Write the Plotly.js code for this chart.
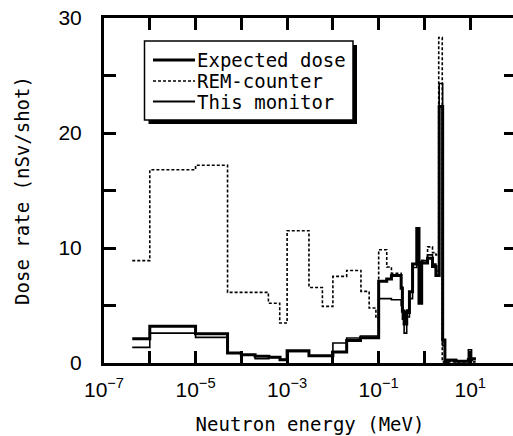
<!DOCTYPE html>
<html>
<head>
<meta charset="utf-8">
<script src="https://cdn.plot.ly/plotly-3.0.1.min.js"></script>
<style>
html, body { margin: 0; padding: 0; overflow: hidden; background: #fff; }
#chart { width: 522px; height: 436px; }
</style>
</head>
<body>
<div id="chart"></div>
<script>
// ---- Data (neutron energy in MeV, dose rate in nSv/shot) ----
// Bin edges for the "Expected dose" and "This monitor" histograms
const binEdges = [4.14e-7, 1e-6, 1e-5, 5e-5, 1e-4, 2e-4, 4e-4, 7e-4, 1e-3, 3e-3,
  1e-2, 2e-2, 4e-2, 0.1, 0.15, 0.19, 0.31, 0.33, 0.36, 0.41, 0.47, 0.55, 0.68,
  0.76, 0.87, 1.17, 1.5, 1.78, 2.1, 2.5, 2.8, 3.2, 4.9, 9.1, 10.7, 13.3];
const expectedDose = [2.1, 3.2, 2.55, 0.87, 0.72, 0.58, 0.49, 0.29, 1.07, 0.63,
  0.95, 1.95, 2.2, 7.1, 7.3, 7.6, 6.5, 4.5, 3.4, 4.4, 6.2, 8.6, 11.7,
  5.2, 8.7, 9.1, 8.4, 7.6, 22.3, 2.0, 0.0, 0.25, 0.15, 0.3, 0.35];
const thisMonitor = [1.36, 2.6, 2.23, 0.85, 0.72, 0.37, 0.49, 0.29, 1.0, 0.6,
  1.74, 2.17, 2.35, 5.6, 5.6, 5.5, 5.0, 3.8, 2.6, 4.0, 5.6, 8.3, 8.6,
  8.8, 8.9, 9.4, 8.6, 8.0, 24.3, 1.5, 0.0, 0.3, 0.2, 1.15, 0.4];
// Bin edges for the REM-counter histogram
const remEdges = [4.14e-7, 1e-6, 1e-5, 5e-5, 3.9e-4, 6.9e-4, 1e-3, 3e-3, 5.9e-3,
  1e-2, 2e-2, 4.1e-2, 6.2e-2, 8.7e-2, 0.1, 0.15, 0.19, 0.31, 0.33, 0.36, 0.41,
  0.47, 0.55, 0.68, 0.87, 1.17, 1.5, 1.78, 2.05, 2.45, 13.3];
const remCounter = [8.9, 16.8, 17.2, 6.14, 5.2, 3.48, 11.5, 6.57, 4.92,
  7.53, 8.05, 6.23, 4.78, 3.9, 9.85, 8.35, 7.8, 6.6, 4.8, 3.6,
  4.6, 6.3, 8.6, 8.8, 8.9, 10.1, 9.6, 9.4, 28.3, 0.1];

const seriesNames = ['Expected dose', 'REM-counter', 'This monitor'];
const xTickVals = [1e-7, 1e-5, 1e-3, 1e-1, 1e1];
const xTickText = ['10<sup>−7</sup>', '10<sup>−5</sup>', '10<sup>−3</sup>', '10<sup>−1</sup>', '10<sup>1</sup>'];
const xMinorVals = [1e-6, 1e-4, 1e-2, 1e0];
const yTickVals = [0, 10, 20, 30];
const yTickText = ['0', '10', '20', '30'];
const yMinorVals = [5, 15, 25];

// ---- Layout geometry (pixels) ----
const W = 522, H = 436;
const M = {l: 104, r: 6, t: 18, b: 73};
const plotW = W - M.l - M.r, plotH = H - M.t - M.b;
const px = v => (v - M.l) / plotW;
const py = v => (H - M.b - v) / plotH;

function stepY(vals) { return vals.concat([vals[vals.length - 1]]); }

const monoFont = 'DejaVu Sans Mono, Liberation Mono, monospace';
const tickFont = {family: 'Liberation Sans Narrow, Arial Narrow, Liberation Sans, Arial, sans-serif', size: 21, color: '#000'};
const tickStyle = {ticks: 'inside', ticklen: 12, tickwidth: 3, tickcolor: '#000'};

const traces = [
  {x: remEdges, y: stepY(remCounter), name: seriesNames[1], type: 'scatter', mode: 'lines',
   line: {shape: 'hv', color: '#000', width: 1.6, dash: '3px,2px'}},
  {x: binEdges, y: stepY(thisMonitor), name: seriesNames[2], type: 'scatter', mode: 'lines',
   line: {shape: 'hv', color: '#000', width: 1.6}},
  {x: binEdges, y: stepY(expectedDose), name: seriesNames[0], type: 'scatter', mode: 'lines',
   line: {shape: 'hv', color: '#000', width: 3}}
];

// Manual legend box (with drop shadow) drawn in paper coordinates
const lg = {x0: 144.5, x1: 353, y0: 41, y1: 120, sh: 4};
const rows = [
  {y: 60, width: 3, dash: 'solid', text: seriesNames[0]},
  {y: 81, width: 1.5, dash: '3px,2px', text: seriesNames[1]},
  {y: 101.5, width: 1.8, dash: 'solid', text: seriesNames[2]}
];
const shapes = [
  {type: 'rect', xref: 'paper', yref: 'paper', layer: 'above',
   x0: px(lg.x0 + lg.sh), x1: px(lg.x1 + lg.sh), y0: py(lg.y0 + lg.sh), y1: py(lg.y1 + lg.sh),
   fillcolor: '#000', line: {width: 0}},
  {type: 'rect', xref: 'paper', yref: 'paper', layer: 'above',
   x0: px(lg.x0), x1: px(lg.x1), y0: py(lg.y0), y1: py(lg.y1),
   fillcolor: '#fff', line: {color: '#000', width: 1.5}}
];
const annotations = [];
rows.forEach(r => {
  shapes.push({type: 'line', xref: 'paper', yref: 'paper', layer: 'above',
    x0: px(153), x1: px(195), y0: py(r.y), y1: py(r.y),
    line: {color: '#000', width: r.width, dash: r.dash}});
  annotations.push({xref: 'paper', yref: 'paper', x: px(195), y: py(r.y),
    xanchor: 'left', yanchor: 'middle', showarrow: false, text: r.text,
    font: {family: monoFont, size: 19, color: '#000'}});
});

const layout = {
  width: W, height: H,
  margin: M,
  paper_bgcolor: '#fff', plot_bgcolor: '#fff',
  showlegend: false,
  xaxis: Object.assign({
    type: 'log', range: [-7, 2],
    tickmode: 'array', tickvals: xTickVals, ticktext: xTickText,
    minor: Object.assign({tickmode: 'array', tickvals: xMinorVals}, tickStyle),
    showline: true, linewidth: 3, linecolor: '#000', mirror: 'ticks',
    showgrid: false, zeroline: false,
    tickfont: tickFont, ticklabelstandoff: 6,
    title: {text: 'Neutron energy (MeV)', font: {family: monoFont, size: 19, color: '#000'}, standoff: 18}
  }, tickStyle),
  yaxis: Object.assign({
    range: [0, 30],
    tickmode: 'array', tickvals: yTickVals, ticktext: yTickText,
    minor: Object.assign({tickmode: 'array', tickvals: yMinorVals}, tickStyle),
    showline: true, linewidth: 3, linecolor: '#000', mirror: 'ticks',
    showgrid: false, zeroline: false,
    tickfont: tickFont, ticklabelstandoff: 15,
    title: {text: 'Dose rate (nSv/shot)', font: {family: monoFont, size: 19, color: '#000'}, standoff: 24}
  }, tickStyle),
  shapes: shapes,
  annotations: annotations
};

Plotly.newPlot('chart', traces, layout, {displayModeBar: false, staticPlot: true});
</script>
</body>
</html>
